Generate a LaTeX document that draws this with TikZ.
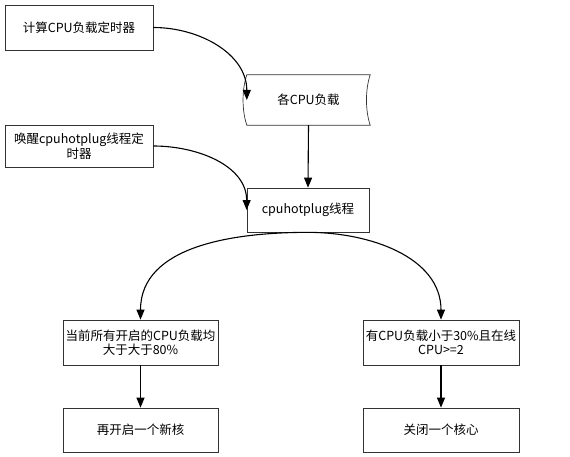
\documentclass[tikz,border=0pt]{standalone}
\usepackage{fontspec}
\setmainfont{Noto Sans CJK SC}
\usetikzlibrary{arrows.meta}

\begin{document}
\begin{tikzpicture}[x=1pt,y=1pt,
    box/.style={draw=black!80,line width=0.7pt,align=center,font=\fontsize{12.5}{14.5}\selectfont,inner sep=1pt},
    link/.style={-{Triangle[length=10pt,width=8pt]},line width=1.1pt}]
      \useasboundingbox (0,0) rectangle (570,456);
      \node[box,minimum width=148,minimum height=45] (timer) at (79,428.5) {计算CPU负载定时器};
      \node[font=\fontsize{12.5}{14.5}\selectfont,minimum width=123,minimum height=50] (load) at (308.5,356) {各CPU负载};
      \draw[draw=black!80,line width=0.7pt] (load.north west) .. controls +(-5,-15) and +(-5,15) .. (load.south west)
                  -- (load.south east) .. controls +(-5,15) and +(-5,-15) .. (load.north east) -- cycle;
      \node[box,minimum width=148,minimum height=42] (wake) at (79,310) {唤醒cpuhotplug线程定\\时器};
      \node[box,minimum width=122,minimum height=44] (thread) at (308,246) {cpuhotplug线程};
      \node[box,minimum width=155,minimum height=45] (busy) at (140.5,113.5) {当前所有开启的CPU负载均\\大于大于80\%};
      \node[box,minimum width=156,minimum height=45] (idle) at (441,113.5) {有CPU负载小于30\%且在线\\CPU>=2};
      \node[box,minimum width=155,minimum height=44] (up) at (140.5,26) {再开启一个新核};
      \node[box,minimum width=156,minimum height=44] (down) at (441,26) {关闭一个核心};
      \draw[link] (timer.east) to[out=0,in=90] (load.west);
      \draw[link] (wake.east) to[out=0,in=90] (thread.west);
      \draw[link] (load.south) -- (thread.north);
      \draw[link] (thread.south) to[out=180,in=90] (busy.north);
      \draw[link] (thread.south) to[out=0,in=90] (idle.north);
      \draw[link] (busy.south) -- (up.north);
      \draw[link] (idle.south) -- (down.north);
    \end{tikzpicture}
\end{document}
